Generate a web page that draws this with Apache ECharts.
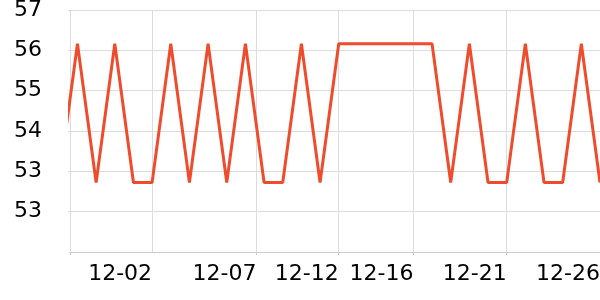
<!DOCTYPE html>
<html>
<head>
<meta charset="utf-8">
<script src="https://cdn.jsdelivr.net/npm/echarts@6/dist/echarts.min.js"></script>
<style>html,body{margin:0;padding:0;background:#fff}#c{width:600px;height:300px}</style>
</head>
<body>
<div id="c"></div>
<script>
// data
const dates = ['2023-11-27','2023-11-28','2023-11-29','2023-11-30','2023-12-01','2023-12-02','2023-12-03','2023-12-04','2023-12-05','2023-12-06','2023-12-07','2023-12-08','2023-12-09','2023-12-10','2023-12-11','2023-12-12','2023-12-13','2023-12-14','2023-12-15','2023-12-16','2023-12-17','2023-12-18','2023-12-19','2023-12-20','2023-12-21','2023-12-22','2023-12-23','2023-12-24','2023-12-25','2023-12-26'];
const values = [53.18,55.93,53.18,55.93,53.18,53.18,55.93,53.18,55.93,53.18,55.93,53.18,53.18,55.93,53.18,55.93,55.93,55.93,55.93,55.93,55.93,53.18,55.93,53.18,53.18,55.93,53.18,53.18,55.93,53.18];
const xStart = '2023-11-27 14:24';
const xEnd = '2023-12-26';
const tickDates = ['2023-11-27 14:24','2023-12-02','2023-12-07 14:10','2023-12-12','2023-12-16','2023-12-21','2023-12-26'];
const labelDates = ['2023-12-02','2023-12-07 14:10','2023-12-12','2023-12-16','2023-12-21','2023-12-26'];
const yMin = 51.8, yMax = 56.6, yStep = 0.8;

function ts(s){ return echarts.time.parse(s).getTime(); }

const chart = echarts.init(document.getElementById('c'), null, {renderer:'canvas'});
chart.setOption({
  animation:false,
  grid:{left:70,right:0,top:10,bottom:48,containLabel:false,outerBoundsMode:'none'},
  xAxis:{
    type:'time',
    min:ts(xStart), max:ts(xEnd),
    axisLine:{show:true,lineStyle:{color:'#cccccc',width:1}},
    axisTick:{show:true,length:3,lineStyle:{color:'#cccccc'},customValues:tickDates.map(ts)},
    splitLine:{show:true,lineStyle:{color:'#dddddd',width:1}},
    axisLabel:{
      customValues:labelDates.map(ts),
      formatter:'{MM}-{dd}',
      align:'right',
      margin:11,
      fontSize:22,fontFamily:'DejaVu Sans',color:'#000'
    }
  },
  yAxis:{
    type:'value',
    min:yMin,max:yMax,interval:yStep,
    axisLine:{show:false},
    axisTick:{show:true,length:2,lineStyle:{color:'#dddddd'}},
    splitLine:{show:true,lineStyle:{color:'#dddddd',width:1}},
    axisLabel:{
      showMinLabel:false,
      margin:28,
      fontSize:22,fontFamily:'DejaVu Sans',color:'#000',
      formatter:function(v){return Math.round(v).toString();}
    }
  },
  series:[{
    type:'line',
    data:dates.map((d,i)=>[d,values[i]]),
    showSymbol:false,
    clip:true,
    lineStyle:{color:'#ef4c2e',width:3},
    itemStyle:{color:'#ef4c2e'}
  }]
});
</script>
</body>
</html>
